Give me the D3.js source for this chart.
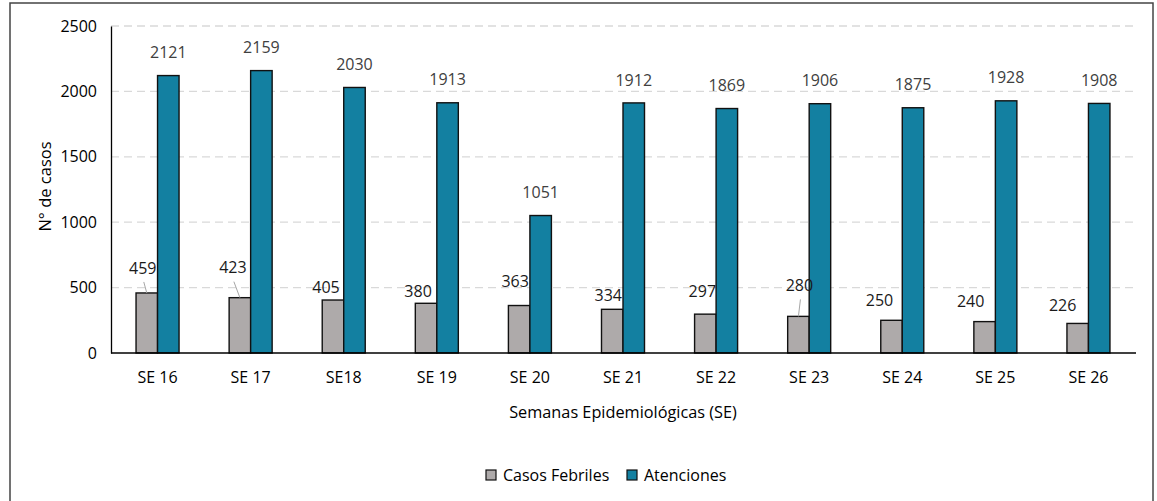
<!DOCTYPE html>
<html>
<head>
<meta charset="utf-8">
<script src="https://cdn.jsdelivr.net/npm/d3@7"></script>
<style>
  html, body { margin: 0; padding: 0; background: #fff; }
  svg { display: block; }
  svg text { font-family: "Open Sans", "Noto Sans", sans-serif; }
</style>
</head>
<body>
<svg id="chart" width="1157" height="501"></svg>
<script>
// ---- data ----
const categories = ["SE 16","SE 17","SE18","SE 19","SE 20","SE 21","SE 22","SE 23","SE 24","SE 25","SE 26"];
const casosFebriles = [459, 423, 405, 380, 363, 334, 297, 280, 250, 240, 226];
const atenciones = [2121, 2159, 2030, 1913, 1051, 1912, 1869, 1906, 1875, 1928, 1908];
const yTicks = [0, 500, 1000, 1500, 2000, 2500];
const seriesNames = ["Casos Febriles", "Atenciones"];

// label nudges for the grey series (pixels: dx, dy of label centre from bar top-centre, leader line)
const greyLabelNudge = [[-4,-25,1],[-7,-30,1],[-7,-13,0],[-8,-12,0],[-4,-24,0],[-4,-14,0],[-3,-23,0],[1,-31,1],[-12,-20,0],[-14,-20,0],[-15,-18,0]];

// ---- layout ----
const svg = d3.select("#chart");
const pLeft = 111, pRight = 1135, pTop = 26, pBottom = 353;
const colGrey = "#AEAAAA", colTeal = "#1380A1";
const fontSize = 16;

svg.append("rect").attr("x", 10).attr("y", 3).attr("width", 1143).attr("height", 520)
  .attr("fill", "#fff").attr("stroke", "#444").attr("stroke-width", 1.5);

const x = d3.scaleBand().domain(categories).range([pLeft, pRight]).paddingInner(0).paddingOuter(0);
const y = d3.scaleLinear().domain([0, 2500]).range([pBottom, pTop]);
const bw = x.bandwidth() * 0.231;

// gridlines
svg.append("g").selectAll("line").data(yTicks.filter(d => d > 0)).join("line")
  .attr("x1", pLeft).attr("x2", pRight - 2)
  .attr("y1", d => y(d)).attr("y2", d => y(d))
  .attr("stroke", "#D9D9D9").attr("stroke-width", 1.3).attr("stroke-dasharray", "8,5");

// y axis
const yAxis = d3.axisLeft(y).tickValues(yTicks).tickSize(0).tickPadding(14).tickFormat(d3.format("d"));
const gy = svg.append("g").attr("transform", `translate(${pLeft},0)`).call(yAxis)
  .attr("font-family", null).attr("font-size", fontSize);
gy.select(".domain").attr("stroke", "#000").attr("stroke-width", 1.3);
gy.selectAll("text").attr("fill", "#000");

// bars
const cx = c => x(c) + x.bandwidth() / 2;
svg.append("g").selectAll("rect").data(categories).join("rect")
  .attr("x", (c) => cx(c) - bw).attr("width", bw)
  .attr("y", (c, i) => y(casosFebriles[i])).attr("height", (c, i) => y(0) - y(casosFebriles[i]))
  .attr("fill", colGrey).attr("stroke", "#111").attr("stroke-width", 1.4);
svg.append("g").selectAll("rect").data(categories).join("rect")
  .attr("x", (c) => cx(c)).attr("width", bw)
  .attr("y", (c, i) => y(atenciones[i])).attr("height", (c, i) => y(0) - y(atenciones[i]))
  .attr("fill", colTeal).attr("stroke", "#111").attr("stroke-width", 1.4);

// x axis
const xAxis = d3.axisBottom(x).tickSize(0).tickPadding(19);
const gx = svg.append("g").attr("transform", `translate(0,${pBottom})`).call(xAxis)
  .attr("font-family", null).attr("font-size", fontSize);
gx.select(".domain").attr("stroke", "#000").attr("stroke-width", 1.5)
  .attr("d", `M${pLeft},0H${pRight + 1}`);
gx.selectAll("text").attr("fill", "#000");

// teal labels
svg.append("g").selectAll("text").data(categories).join("text")
  .attr("x", c => cx(c) + bw / 2).attr("y", (c, i) => y(atenciones[i]) - 23)
  .attr("dy", "0.35em").attr("text-anchor", "middle")
  .attr("font-size", fontSize).attr("fill", "#404040")
  .text((c, i) => atenciones[i]);

// grey labels + leader lines
const gl = svg.append("g");
categories.forEach((c, i) => {
  const bx = cx(c) - bw / 2, by = y(casosFebriles[i]);
  const [dx, dy, leader] = greyLabelNudge[i];
  if (leader) {
    gl.append("line").attr("x1", bx + dx + 1).attr("y1", by + dy + 14)
      .attr("x2", bx).attr("y2", by).attr("stroke", "#A6A6A6").attr("stroke-width", 1);
  }
  gl.append("text").attr("x", bx + dx).attr("y", by + dy).attr("dy", "0.35em")
    .attr("text-anchor", "middle").attr("font-size", fontSize).attr("fill", "#1a1a1a")
    .text(casosFebriles[i]);
});

// axis titles
svg.append("text").attr("x", (pLeft + pRight) / 2).attr("y", 412).attr("dy", "0.35em")
  .attr("text-anchor", "middle").attr("font-size", 16.3).attr("fill", "#000")
  .text("Semanas Epidemiológicas (SE)");
svg.append("text").attr("transform", `translate(45,${(pTop + pBottom) / 2 - 3}) rotate(-90)`)
  .attr("dy", "0.35em").attr("text-anchor", "middle").attr("font-size", 16.5).attr("fill", "#000")
  .text("N° de casos");

// legend
const legend = svg.append("g");
const legendItems = [{ name: seriesNames[0], color: colGrey, x: 486 }, { name: seriesNames[1], color: colTeal, x: 627 }];
legendItems.forEach(it => {
  legend.append("rect").attr("x", it.x).attr("y", 470).attr("width", 10).attr("height", 10)
    .attr("fill", it.color).attr("stroke", "#111").attr("stroke-width", 1.2);
  legend.append("text").attr("x", it.x + 17).attr("y", 475).attr("dy", "0.35em")
    .attr("font-size", fontSize).attr("fill", "#000").text(it.name);
});
</script>
</body>
</html>
